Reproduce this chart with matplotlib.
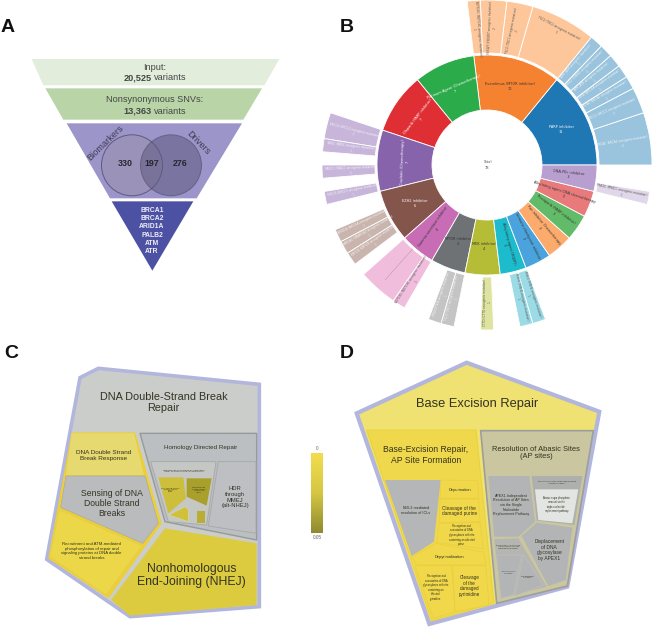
import numpy as np
import matplotlib
matplotlib.use('Agg')
import matplotlib.pyplot as plt
from matplotlib.patches import Polygon, Circle, Wedge
from matplotlib.colors import LinearSegmentedColormap

# panel A
funnel_text = ['Input:', 'Nonsynonymous SNVs:']
funnel_variants = ['20,525', '13,363']
venn_sets = ['Biomarkers', 'Drivers']
venn_counts = [330, 197, 276]
final_genes = ['BRCA1', 'BRCA2', 'ARID1A', 'PALB2', 'ATM', 'ATR']

# panel B, inner ring
drug_names = ['PARP inhibitor', 'Everolimus (MTOR inhibitor)', 'Platinum Agent (Chemotherapy)',
              'Olaparib (PARP inhibitor)', 'Cisplatin (Chemotherapy)', 'EZH2 inhibitor',
              'Gamma secretase inhibitor', 'MTOR inhibitor', 'MEK inhibitor',
              'Alkylating agent (MGMT)', 'Immune checkpoint inhibitor', 'Pan-inhibitor Chemotherapy',
              'Rucaparib (PARP inhibitor)', 'Alkylating agent DNA chemotherapy', 'DNA-PKc inhibitor']
drug_counts = [11, 10, 7, 7, 7, 6, 4, 4, 4, 3, 3, 3, 3, 3, 3]
drug_colors = ['#1f77b4', '#f58230', '#2cab4b', '#df2f35', '#8763ab', '#84564b', '#c76cb5', '#6f7274',
               '#b5bc35', '#1cbccd', '#4aa3dc', '#fdaa6d', '#62bb68', '#e87a7c', '#b7a0cf']
outer_colors = ['#9ac4dd', '#fdc79b', None, None, '#c7b6da', '#c9b5ae', '#f0bedc', '#c4c4c4',
                '#dfe3a0', '#9bdbe5', None, None, None, None, '#e0d7ea']
# (gene, count) per drug; a gene of None leaves a gap in the ring
drug_genes = [
    [('BRCA1', 4), ('ERCC2', 2), ('BRCA2', 1), ('ARID1A', 1), ('ATR', 1), ('CHEK2', 1), ('ATM', 1)],
    [('TSC2', 5), ('TSC1', 2), ('FBXW7', 2), ('NOTCH1', 1)],
    [], [],
    [('ERCC4', 2), ('NBS1', 1), (None, 1), ('FANCC', 1), (None, 1), ('ERCC5', 1)],
    [(None, 2), ('ARID1A', 1), ('SMARCA4', 1), ('KMT2D', 1), (None, 1)],
    [('', 3), ('NOTCH1', 1)],
    [(None, 2), ('PTEN', 1), ('TSC1', 1)],
    [(None, 2), ('CTTD', 1), (None, 1)],
    [(None, 1), ('MSH6', 1), ('MSH2', 1)],
    [], [], [], [],
    [('PRKDC', 1), (None, 2)],
]
total_label = 78

# panel C and D
scale_ticks = [0, 0.05]
scale_colors = ['#f3dd4e', '#d5c643', '#8f8a30']

plt.rcParams['font.family'] = ['Liberation Sans', 'DejaVu Sans']
fig = plt.figure(figsize=(6.54, 6.28), dpi=100)
ax = fig.add_axes([0, 0, 1, 1])
ax.set_xlim(0, 654)
ax.set_ylim(628, 0)
ax.axis('off')

for letter, x, y in [('A', 8, 28), ('B', 347, 28), ('C', 11, 353), ('D', 347, 353)]:
    ax.text(x, y, letter, fontsize=14, fontweight='bold', ha='center', va='center', color='#111111')


# ---- A: funnel ----
def za(pts):
    return [(x / 3, y / 3) for x, y in pts]

for pts, col in [([(95, 177), (838, 177), (793, 256), (130, 256)], '#e3eddb'),
                 ([(136, 265), (786, 265), (730, 359), (190, 359)], '#b9d5a7'),
                 ([(200, 370), (726, 370), (590, 595), (330, 595)], '#9b95c9'),
                 ([(335, 604), (580, 604), (457, 812)], '#4c51a3')]:
    ax.add_patch(Polygon(za(pts), closed=True, fc=col, ec='none'))

grey_txt = '#454545'
for i, yy in enumerate([67, 100]):
    ax.text(154.5, yy, funnel_text[i], fontsize=6.6, color=grey_txt, ha='center', va='center')
    ax.text(151.5, yy + 11, funnel_variants[i], fontsize=6.6, fontweight='bold', color=grey_txt,
            ha='right', va='center')
    ax.text(153.5, yy + 11, 'variants', fontsize=6.6, color=grey_txt, ha='left', va='center')

ax.add_patch(Circle((132, 165.3), 30.5, fc='#9a92b8', ec='#5f5a80', lw=0.7))
ax.add_patch(Circle((171, 165.3), 30.5, fc='#5f5a80', alpha=0.55, ec='#4a4668', lw=0.7))
ax.text(105, 143, venn_sets[0], rotation=44, fontsize=6.6, color='#3c3c50', ha='center', va='center')
ax.text(198, 143, venn_sets[1], rotation=-46, fontsize=6.6, color='#3c3c50', ha='center', va='center')
for x, n in zip([125, 152, 180], venn_counts):
    ax.text(x, 164, str(n), fontsize=6.4, fontweight='bold', color='#26262e', ha='center', va='center')
for i, g in enumerate(final_genes):
    ax.text(152, 210 + i * 8.35, g, fontsize=4.9, fontweight='bold', color='#eeeef6', ha='center', va='center')

# ---- B: sunburst ----
cx, cy = 487, 165
r0, r1, r2, r3 = 55, 110, 112, 165
unit = 360 / sum(drug_counts)
starts = np.cumsum([0] + drug_counts[:-1])
ring_rot = {2: 23, 3: 52, 4: 88, 6: 55, 9: -75, 10: -63, 11: -50, 12: -37, 13: -18, 14: -6}
sb_font = 'DejaVu Sans'
light_outer = {0, 4, 5, 7}

for i, (name, n) in enumerate(zip(drug_names, drug_counts)):
    a0 = starts[i] * unit
    a1 = (starts[i] + n) * unit
    ax.add_patch(Wedge((cx, cy), r1, -a1, -a0, width=r1 - r0, fc=drug_colors[i], ec='white', lw=0.6))
    mid = np.radians((a0 + a1) / 2)
    rad = 82
    tx, ty = cx + rad * np.cos(mid), cy - rad * np.sin(mid)
    rot = ring_rot.get(i, 0)
    tc = 'white' if i in (0, 2, 3, 4, 5) else '#333333'
    ax.text(tx, ty, '%s\n%d' % (name, n), fontsize=2.5, color=tc, family=sb_font, rotation=rot,
            rotation_mode='anchor', ha='center', va='center', linespacing=1.3, multialignment='center')

    pos = starts[i]
    for gene, k in drug_genes[i]:
        if gene is not None:
            b0, b1 = pos * unit, (pos + k) * unit
            ax.add_patch(Wedge((cx, cy), r3, -b1, -b0, width=r3 - r2, fc=outer_colors[i], ec='white', lw=0.6))
            midb = (b0 + b1) / 2
            m = np.radians(midb)
            if gene:
                label = '%s (%s oncogenic mutation)\n%d' % (gene, gene, k)
                if k >= 5:
                    tr = 152
                    rot2 = midb - 90
                else:
                    tr = 137
                    rot2 = midb if np.cos(m) >= 0 else midb - 180
                ax.text(cx + tr * np.cos(m), cy - tr * np.sin(m), label, fontsize=2.05,
                        color='#f4f4f4' if i in light_outer else '#555555',
                        family=sb_font, rotation=rot2, rotation_mode='anchor', ha='center', va='center',
                        linespacing=1.3, multialignment='center')
            else:
                ax.plot([cx + r2 * np.cos(m), cx + r3 * 0.93 * np.cos(m)],
                        [cy - r2 * np.sin(m), cy - r3 * 0.93 * np.sin(m)], color='#a98ea4', lw=0.3)
        pos += k
ax.text(cx, cy, 'Total\n%d' % total_label, fontsize=2.6, color='#555555', family=sb_font,
        ha='center', va='center', linespacing=1.4, multialignment='center')


# ---- C: voronoi treemap ----
def zc(pts):
    return [(30 + x / 3, 350 + y / 3) for x, y in pts]

def zd(pts):
    return [(340 + x / 3, 350 + y / 3) for x, y in pts]

lav = '#b3b6dc'
ax.add_patch(Polygon(zc([(205, 55), (150, 83), (50, 628), (300, 800), (688, 770), (688, 103)]),
                     closed=True, fc='#cbcdca', ec=lav, lw=2.6, joinstyle='miter', zorder=1))
c_cells = [
    ([(125, 247), (315, 247), (395, 520), (235, 745), (55, 625)], '#eccf35', 'none', 0),
    ([(125, 250), (312, 250), (342, 375), (108, 375)], '#e6d970', 'none', 0),
    ([(108, 378), (345, 378), (385, 520), (338, 580), (92, 472)], '#b9bbbd', '#a9abab', 0.5),
    ([(88, 480), (335, 587), (228, 735), (60, 620)], '#ecd748', '#e3cf4c', 0.5),
    ([(405, 535), (680, 580), (680, 765), (300, 797), (243, 750)], '#dccb3f', 'none', 0),
    ([(330, 250), (680, 250), (680, 570), (405, 515)], '#bcbfc1', '#97999a', 1.0),
    ([(565, 335), (678, 335), (678, 550), (535, 528)], '#bdbfc2', '#a5a7a8', 0.6),
    ([(362, 335), (558, 335), (530, 525), (415, 515)], '#c5c7c5', '#a5a7a8', 0.6),
    ([(385, 382), (460, 382), (468, 445), (415, 490)], '#cdbf3b', 'none', 0),
    ([(470, 385), (545, 385), (530, 467), (470, 440)], '#a9a02b', 'none', 0),
    ([(417, 495), (465, 470), (475, 478), (475, 515)], '#cfc13c', '#e3e0b0', 0.3),
    ([(502, 483), (525, 483), (525, 520), (502, 520)], '#b9ad35', 'none', 0),
]
for pts, fc, ec, lw in c_cells:
    ax.add_patch(Polygon(zc(pts), closed=True, fc=fc, ec=ec, lw=lw, joinstyle='miter', zorder=2))

c_labels = [
    (400, 157, 'DNA Double-Strand Break\nRepair', 7.8),
    (222, 316, 'DNA Double Strand\nBreak Response', 4.6),
    (513, 291, 'Homology Directed Repair', 4.5),
    (246, 460, 'Sensing of DNA\nDouble Strand\nBreaks', 6.2),
    (185, 603, 'Recruitment and ATM-mediated\nphosphorylation of repair and\nsignaling proteins at DNA double\nstrand breaks', 3.1),
    (484, 677, 'Nonhomologous\nEnd-Joining (NHEJ)', 8.8),
    (615, 442, 'HDR\nthrough\nMMEJ\n(alt-NHEJ)', 4.2),
    (462, 362, 'HDR through Homologous Recombination\n(HRR) or Single Strand Annealing (SSA)', 1.6),
    (422, 420, 'Processing of DNA\ndouble-strand\nbreak\nends', 1.6),
    (507, 420, 'HDR through\nSingle Strand\nAnnealing\n(SSA)', 1.6),
]
for x, y, s, fs in c_labels:
    px, py = zc([(x, y)])[0]
    ax.text(px, py, s, fontsize=fs, color='#333322', ha='center', va='center', linespacing=1.18,
            multialignment='center', zorder=3)

# colour scale
cmap = LinearSegmentedColormap.from_list('scale', scale_colors)
grad = np.linspace(scale_ticks[0], scale_ticks[1], 200).reshape(-1, 1)
ax.imshow(grad, cmap=cmap, extent=(311, 323, 533, 453), aspect='auto', zorder=2)
ax.set_xlim(0, 654)
ax.set_ylim(628, 0)
ax.text(317, 448.5, str(scale_ticks[0]), fontsize=3.4, color='#666666', ha='center', va='center')
ax.text(317, 537.5, str(scale_ticks[1]), fontsize=3.4, color='#666666', ha='center', va='center')

# ---- D: voronoi treemap ----
ax.add_patch(Polygon(zd([(380, 38), (778, 185), (682, 710), (268, 822), (50, 190)]), closed=True,
                     fc='#efe272', ec=lav, lw=3.0, joinstyle='miter', zorder=1))
d_cells = [
    ([(80, 240), (408, 240), (462, 760), (275, 812)], '#f0d84c', '#ecd23a', 0.8),
    ([(135, 390), (302, 390), (282, 575), (215, 618)], '#b5b6b8', 'none', 0),
    ([(303, 390), (413, 392), (416, 445), (300, 445)], '#f0d84a', '#eacf3c', 0.5),
    ([(300, 447), (416, 447), (420, 515), (297, 518)], '#f0d84a', '#eacf3c', 0.5),
    ([(297, 520), (420, 518), (430, 597), (290, 577)], '#f0d84a', '#eacf3c', 0.5),
    ([(215, 622), (287, 580), (432, 607), (437, 645), (232, 645)], '#f0d84a', '#eacf3c', 0.5),
    ([(225, 647), (335, 647), (345, 785), (280, 805)], '#f0d84a', '#eacf3c', 0.5),
    ([(338, 647), (437, 647), (447, 765), (345, 785)], '#f0d84a', '#eacf3c', 0.5),
    ([(422, 242), (760, 242), (682, 708), (470, 760)], '#c9c6a0', '#9c9ea0', 1.2),
    ([(445, 378), (568, 378), (585, 515), (535, 560), (463, 560)], '#b3b4b6', 'none', 0),
    ([(575, 378), (727, 378), (703, 525), (590, 512)], '#aeb0ad', 'none', 0),
    ([(585, 418), (715, 418), (697, 520), (595, 510)], '#e3e5e3', 'none', 0),
    ([(590, 518), (697, 533), (677, 690), (625, 708), (545, 558)], '#b3b4b6', 'none', 0),
    ([(463, 568), (535, 565), (620, 710), (483, 745)], '#b5b6b2', 'none', 0),
    ([(470, 615), (545, 615), (520, 735), (483, 745)], '#b3b4b6', '#c2c3ba', 0.4),
    ([(550, 615), (610, 705), (525, 738)], '#b3b4b6', '#c2c3ba', 0.4),
]
for pts, fc, ec, lw in d_cells:
    ax.add_patch(Polygon(zd(pts), closed=True, fc=fc, ec=ec, lw=lw, joinstyle='miter', zorder=2))

d_labels = [
    (410, 163, 'Base Excision Repair', 9.3),
    (258, 315, 'Base-Excision Repair,\nAP Site Formation', 6.2),
    (588, 309, 'Resolution of Abasic Sites\n(AP sites)', 5.4),
    (228, 482, 'NEIL3-mediated\nresolution of ICLs', 2.7),
    (360, 420, 'Depurination', 2.9),
    (358, 483, 'Cleavage of the\ndamaged purine', 3.4),
    (365, 555, 'Recognition and\nassociation of DNA\nglycosylases with site\ncontaining an affected\npurine', 1.9),
    (327, 622, 'Depyrimidination', 2.9),
    (288, 712, 'Recognition and\nassociation of DNA\nglycosylases with site\ncontaining an\naffected\npyrimidine', 1.9),
    (388, 708, 'Cleavage\nof the\ndamaged\npyrimidine', 3.3),
    (513, 465, 'APEX1-Independent\nResolution of AP Sites\nvia the Single\nNucleotide\nReplacement Pathway', 2.6),
    (650, 397, 'Resolution of AP sites via the single-nucleotide\nreplacement pathway', 1.4),
    (650, 464, 'Abasic sugar phosphate\nremoval via the\nsingle-nucleotide\nreplacement pathway', 1.8),
    (628, 600, 'Displacement\nof DNA\nglycosylase\nby APEX1', 3.5),
    (505, 590, 'Resolution of AP sites via\nthe multiple-nucleotide\nreplacement pathway', 1.5),
    (505, 667, 'PCNA-dependent\nlong patch', 1.3),
    (562, 680, 'POLB-dependent\nlong patch', 1.3),
]
for x, y, s, fs in d_labels:
    px, py = zd([(x, y)])[0]
    ax.text(px, py, s, fontsize=fs, color='#33331f', ha='center', va='center', linespacing=1.18,
            multialignment='center', zorder=3)

fig.savefig('out.png', dpi=100)
